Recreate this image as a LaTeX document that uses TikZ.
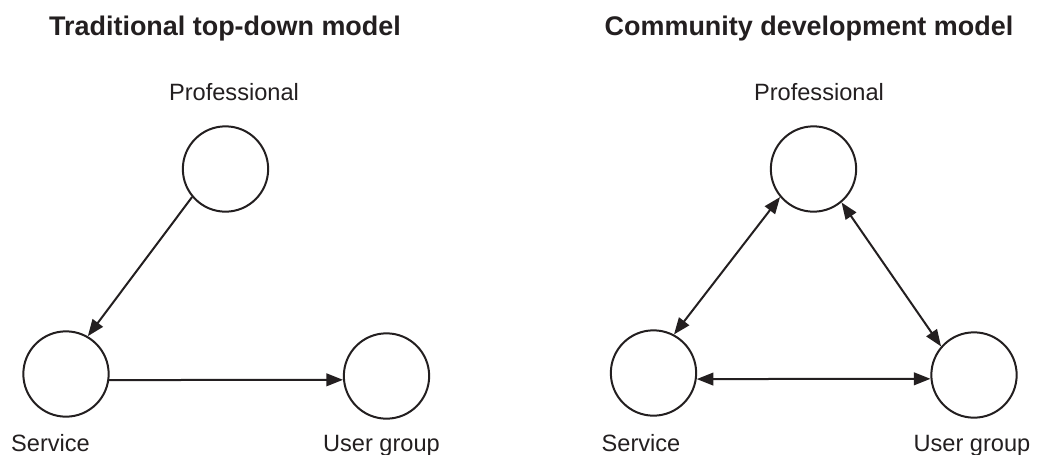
\documentclass[tikz,border=0pt]{standalone}
\usepackage{fontspec}
\setmainfont{Liberation Sans}
\usetikzlibrary{arrows.meta}
\definecolor{ink}{RGB}{35,31,32}

\begin{document}
\begin{tikzpicture}[x=0.75pt,y=-0.75pt,
    hub/.style={draw=ink,line width=1.5pt,circle,minimum size=64pt,inner sep=0pt},
    lbl/.style={anchor=base,text=ink,inner sep=0pt,font=\fontsize{17.7}{21}\selectfont},
    ttl/.style={anchor=base,text=ink,inner sep=0pt,font=\fontsize{20.2}{24}\selectfont\bfseries},
    link/.style={draw=ink,line width=1.5pt,-{Triangle[length=12.5pt,width=9.5pt]}},
    both/.style={link,{Triangle[length=12.5pt,width=9.5pt]}-{Triangle[length=12.5pt,width=9.5pt]}}]
  \useasboundingbox (0,0) rectangle (1046,454);
  % top-down model
  \node[ttl] (t1) at (225,35.5) {Traditional top-down model};
  \node[hub] (pl) at (225.5,169) {};
  \node[hub] (sl) at (66,374) {};
  \node[hub] (ul) at (386.5,376) {};
  \node[lbl] (plab) at (234,100) {Professional};
  \node[lbl] (slab) at (50.5,451) {Service};
  \node[lbl] (ulab) at (381.5,451) {User group};
  \draw[link] (pl.220) -- (sl.60);
  \draw[link] (sl.352) -- (ul.185);
  % community model
  \node[ttl] (t2) at (809,35.5) {Community development model};
  \node[hub] (pr) at (813.5,169) {};
  \node[hub] (sr) at (653.5,373) {};
  \node[hub] (ur) at (974,375) {};
  \node[lbl] (prlab) at (819,100) {Professional};
  \node[lbl] (srlab) at (641,451) {Service};
  \node[lbl] (urlab) at (972,451) {User group};
  \draw[both] (sr.62) -- (pr.220);
  \draw[both] (pr.310) -- (ur.139);
  \draw[both] (sr.352) -- (ur.185);
\end{tikzpicture}
\end{document}
